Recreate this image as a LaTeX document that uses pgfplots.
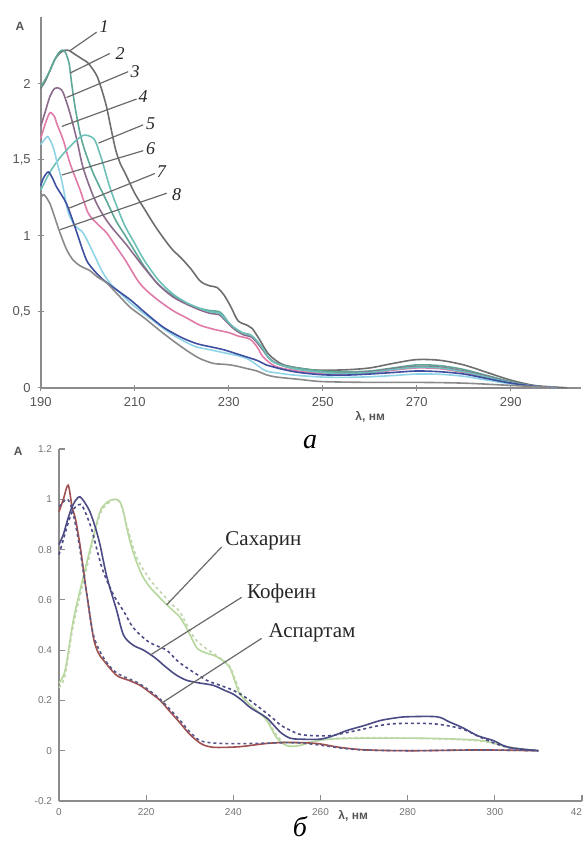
\documentclass[border=0pt]{standalone}
\usepackage{fontspec}
\setmainfont{Liberation Serif}
\setsansfont{Liberation Sans}
\usepackage{pgfplots}
\pgfplotsset{compat=1.18}
\definecolor{axgray}{HTML}{8C8C8C}
\definecolor{tickgray}{HTML}{555555}
\definecolor{leadgray}{HTML}{6A6A6A}
\definecolor{cA}{HTML}{6E6E6E}
\definecolor{cB}{HTML}{5EA898}
\definecolor{cC}{HTML}{8C6A8C}
\definecolor{cD}{HTML}{E07AA8}
\definecolor{cE}{HTML}{6CC0B8}
\definecolor{cF}{HTML}{8FD3E6}
\definecolor{cG}{HTML}{3F4FA0}
\definecolor{cH}{HTML}{8A8A8A}
\definecolor{asp}{HTML}{A0504F}
\definecolor{aspd}{HTML}{5A5A8A}
\definecolor{kof}{HTML}{4B4B85}
\definecolor{sac}{HTML}{B5D89C}
\definecolor{sacd}{HTML}{C2D4AC}
\begin{document}
\begin{tikzpicture}
\useasboundingbox (0,0) rectangle (292.5pt,420.5pt);
% ---------------- panel a ----------------
\begin{axis}[
  at={(20.35pt,226.65pt)}, anchor=south west,
  scale only axis, width=270.25pt, height=185.35pt,
  xmin=190, xmax=305, ymin=0, ymax=2.44, enlargelimits=false,
  axis lines=left, axis line style={-, draw=axgray, line width=0.9pt},
  clip=false,
  xtick={190,210,230,250,270,290}, xticklabels={190,210,230,250,270,290},
  ytick={0,0.5,1,1.5,2}, yticklabels={0,{0,5},1,{1,5},2},
  tick align=center, major tick length=3pt,
  tick style={draw=axgray, line width=0.6pt},
  /pgf/number format/assume math mode=true,
  tick label style={font=\sffamily\fontsize{6.5}{7}\selectfont, text=tickgray},
  every axis plot/.append style={line width=0.8pt, no markers, smooth, tension=0.5},
]
\addplot[cA] coordinates {(190,1.97)(191,2.02)(192,2.09)(193,2.16)(194,2.2)(195,2.22)(196,2.22)(197,2.2)(198,2.18)(199,2.16)(200,2.14)(201,2.1)(202,2.05)(203,1.96)(204,1.85)(205,1.7)(206,1.56)(207,1.47)(208,1.41)(210,1.28)(212,1.18)(214,1.08)(216,0.99)(218,0.91)(220,0.85)(222,0.78)(224,0.7)(226,0.67)(227.5,0.66)(229,0.61)(230.5,0.53)(232,0.44)(234,0.41)(235,0.39)(236.5,0.32)(238.5,0.22)(241,0.16)(243,0.14)(247,0.12)(250,0.115)(255,0.118)(260,0.13)(265,0.16)(270,0.185)(275,0.18)(280,0.15)(285,0.10)(290,0.05)(295,0.015)(300,0.003)(302,0)};
\addplot[cB] coordinates {(190,1.98)(191,2.03)(192,2.09)(193,2.16)(194,2.21)(195,2.22)(196,2.14)(196.6,2.0)(197.3,1.85)(198.4,1.67)(199.4,1.56)(201.2,1.41)(204,1.23)(206,1.1)(208,1.0)(210,0.9)(212,0.8)(214.7,0.69)(217,0.63)(220,0.57)(223,0.53)(225.5,0.51)(228,0.5)(229,0.47)(230.5,0.41)(233,0.36)(234.5,0.35)(236,0.3)(238.8,0.19)(241,0.15)(244.5,0.13)(250,0.11)(255,0.105)(260,0.11)(265,0.13)(270,0.15)(275,0.145)(280,0.12)(285,0.08)(290,0.04)(295,0.01)(300,0)};
\addplot[cC] coordinates {(190,1.72)(191,1.82)(192,1.92)(193,1.97)(194,1.97)(194.8,1.94)(196.2,1.81)(197.7,1.63)(199,1.45)(201.2,1.26)(203,1.15)(205,1.06)(208,0.95)(210,0.87)(212,0.79)(215,0.68)(218,0.6)(221,0.55)(224,0.51)(226,0.49)(228,0.48)(229,0.45)(231,0.39)(233,0.35)(235,0.33)(237,0.26)(239,0.18)(242,0.14)(245,0.12)(250,0.10)(255,0.098)(260,0.105)(265,0.125)(270,0.14)(275,0.135)(280,0.11)(285,0.075)(290,0.035)(295,0.01)(300,0)};
\addplot[cD] coordinates {(190,1.64)(191,1.74)(192,1.81)(193,1.78)(193.4,1.74)(194.8,1.63)(196.2,1.48)(198.4,1.30)(200.1,1.15)(202,1.08)(204,1.02)(206,0.93)(208,0.84)(211,0.69)(214,0.6)(218,0.51)(221,0.46)(224,0.41)(227.4,0.38)(229,0.37)(230.3,0.36)(232,0.34)(234.5,0.32)(236,0.27)(237.4,0.2)(240,0.14)(244.5,0.11)(250,0.09)(255,0.088)(260,0.095)(265,0.115)(270,0.13)(275,0.125)(280,0.10)(285,0.065)(290,0.03)(295,0.008)(300,0)};
\addplot[cE] coordinates {(190,1.3)(192,1.42)(194,1.51)(196,1.58)(198,1.64)(199,1.66)(200,1.66)(201.5,1.63)(203,1.5)(204.7,1.32)(206.5,1.17)(208,1.06)(210,0.95)(212,0.84)(215,0.71)(218,0.62)(221,0.56)(224,0.52)(226,0.5)(228,0.49)(229,0.46)(231,0.40)(233,0.36)(235,0.34)(237,0.27)(239,0.18)(242,0.14)(245,0.12)(250,0.10)(255,0.095)(260,0.1)(265,0.12)(270,0.135)(275,0.13)(280,0.105)(285,0.07)(290,0.033)(295,0.01)(300,0)};
\addplot[cF] coordinates {(190,1.6)(191,1.64)(191.6,1.65)(192.7,1.58)(193.5,1.48)(194.5,1.36)(195.9,1.15)(197.5,1.06)(199,1.02)(201,0.9)(203,0.77)(204.7,0.69)(207,0.62)(209,0.56)(211,0.51)(214,0.44)(217,0.37)(220.3,0.31)(223,0.27)(226,0.25)(229,0.23)(232,0.21)(234,0.19)(236,0.15)(238,0.11)(242,0.09)(245,0.08)(250,0.07)(255,0.068)(260,0.072)(265,0.08)(270,0.09)(275,0.088)(280,0.075)(285,0.05)(290,0.025)(295,0.008)(300,0)};
\addplot[cG] coordinates {(190,1.33)(190.6,1.38)(191.6,1.42)(192.5,1.38)(193.4,1.32)(195.5,1.21)(197.7,1.02)(199,0.9)(200.1,0.82)(202.6,0.73)(205,0.67)(209,0.58)(212,0.50)(216,0.40)(220,0.33)(223.2,0.29)(226,0.27)(228.9,0.25)(232,0.22)(236,0.18)(238,0.15)(241.6,0.12)(245,0.1)(250,0.085)(255,0.083)(260,0.09)(265,0.10)(270,0.11)(275,0.105)(280,0.09)(285,0.06)(290,0.03)(295,0.01)(300,0)};
\addplot[cH] coordinates {(190,1.25)(190.5,1.27)(191,1.26)(192,1.21)(193,1.12)(194.1,1.02)(195.5,0.91)(196.9,0.84)(198.5,0.8)(200.5,0.77)(202,0.73)(204,0.69)(206.5,0.61)(209,0.53)(212,0.46)(216,0.36)(219,0.29)(221.8,0.23)(224,0.19)(226.7,0.16)(228.5,0.155)(230.3,0.15)(232,0.14)(234,0.125)(236,0.11)(238,0.085)(240.2,0.07)(245,0.055)(250,0.04)(260,0.035)(270,0.035)(280,0.03)(290,0.015)(300,0)};
% leaders and labels
\begin{scope}[leadgray, line width=0.6pt]
\draw (axis cs:196.3,2.22) -- (axis cs:201.9,2.34);
\draw (axis cs:196.2,2.07) -- (axis cs:204.7,2.20);
\draw (axis cs:195.5,1.91) -- (axis cs:208.6,2.08);
\draw (axis cs:194.5,1.72) -- (axis cs:210.4,1.90);
\draw (axis cs:202.3,1.61) -- (axis cs:211.8,1.73);
\draw (axis cs:194.5,1.40) -- (axis cs:211.8,1.56);
\draw (axis cs:195.9,1.18) -- (axis cs:214.3,1.41);
\draw (axis cs:194.1,1.04) -- (axis cs:216.8,1.28);
\end{scope}
\begin{scope}[every node/.style={font=\itshape\fontsize{9}{10}\selectfont, text=black!85, inner sep=0pt}]
\node at (axis cs:203.5,2.375) {1};
\node at (axis cs:206.9,2.20) {2};
\node at (axis cs:210.1,2.08) {3};
\node at (axis cs:211.8,1.915) {4};
\node at (axis cs:213.4,1.735) {5};
\node at (axis cs:213.4,1.575) {6};
\node at (axis cs:215.7,1.42) {7};
\node at (axis cs:218.9,1.268) {8};
\end{scope}
\node[font=\sffamily\bfseries\fontsize{6}{7}\selectfont, text=tickgray] at (axis cs:185.6,2.38) {A};
\node[font=\sffamily\bfseries\fontsize{6}{7}\selectfont, text=tickgray] at (axis cs:260.1,-0.19) {λ, нм};
\node[font=\itshape\fontsize{14}{16}\selectfont] at (axis cs:247.3,-0.36) {а};
\end{axis}
% ---------------- panel b ----------------
\begin{axis}[
  at={(29.5pt,20pt)}, anchor=south west,
  scale only axis, width=261.5pt, height=176pt,
  xmin=200, xmax=320, ymin=-0.2, ymax=1.2, enlargelimits=false,
  axis lines=left, axis line style={-, draw=axgray, line width=0.9pt},
  clip=false,
  xtick={200,220,240,260,280,300,320}, xticklabels={0,220,240,260,280,300,{\makebox[0pt][r]{42}}},
  ytick={-0.2,0,0.2,0.4,0.6,0.8,1,1.2}, yticklabels={-0.2,0,0.2,0.4,0.6,0.8,1,1.2},
  tick align=inside, major tick length=3pt,
  tick style={draw=axgray, line width=0.6pt},
  /pgf/number format/assume math mode=true,
  tick label style={font=\sffamily\fontsize{5}{6}\selectfont, text=black!55},
  every axis plot/.append style={line width=0.8pt, no markers, smooth, tension=0.5},
]
\addplot[sac] coordinates {(200,0.27)(201.4,0.32)(203.3,0.52)(205,0.65)(206.4,0.75)(208,0.86)(209.4,0.95)(210.5,0.98)(211.7,0.995)(213,1.0)(214,0.99)(214.8,0.95)(215.5,0.89)(216.5,0.82)(217.8,0.75)(219.3,0.69)(220.9,0.65)(222.5,0.62)(223.9,0.595)(226,0.56)(227.8,0.53)(229.5,0.48)(231.6,0.41)(233.5,0.39)(235.4,0.38)(237.5,0.36)(239.2,0.33)(240.5,0.27)(241.5,0.225)(244,0.18)(246,0.15)(247.7,0.12)(250,0.05)(252.3,0.02)(255,0.02)(258,0.035)(262,0.046)(270,0.05)(280,0.05)(288,0.048)(297,0.04)(303,0.015)(308,0.003)(310,0)};
\addplot[sacd, dash pattern=on 1.5pt off 1.5pt] coordinates {(200,0.25)(201.4,0.3)(203.3,0.5)(206.4,0.73)(209.4,0.94)(211.7,0.99)(213,1.0)(214.2,0.98)(215.5,0.9)(217.8,0.77)(220.9,0.68)(223.9,0.62)(226,0.58)(227.8,0.55)(231,0.45)(233.5,0.41)(236,0.38)(239,0.34)(240.5,0.28)(242,0.22)(244.5,0.17)(247.7,0.125)(250,0.06)(252.3,0.03)(258,0.035)(262,0.048)(270,0.052)(280,0.05)(290,0.045)(297,0.038)(303,0.015)(310,0)};
\addplot[asp] coordinates {(200,0.95)(201,1.0)(202.1,1.056)(203,0.97)(203.8,0.92)(204.8,0.82)(205.6,0.72)(206.4,0.62)(207.9,0.45)(209,0.39)(210.2,0.36)(213.2,0.30)(216,0.28)(218.6,0.26)(221,0.23)(223.2,0.20)(225.5,0.155)(227.8,0.11)(230,0.065)(232.4,0.03)(234,0.018)(236.2,0.013)(241.5,0.016)(247.7,0.029)(252,0.033)(256,0.032)(259.9,0.027)(264.5,0.013)(270.6,0.003)(281.3,0)(296.6,0.003)(310,0)};
\addplot[aspd, dash pattern=on 1.5pt off 1.5pt] coordinates {(200,0.97)(201,0.99)(202,1.0)(203,0.96)(204,0.88)(204.8,0.8)(206.4,0.62)(207.9,0.46)(210.2,0.37)(213.2,0.31)(218.6,0.265)(223.2,0.205)(227.8,0.12)(230,0.075)(232.4,0.04)(236,0.03)(241.5,0.028)(247.7,0.03)(252,0.032)(256,0.03)(260,0.022)(265,0.01)(270,0.003)(280,0)(296,0.003)(310,0)};
\addplot[kof] coordinates {(200,0.82)(201,0.86)(202,0.92)(203,0.97)(204,1.0)(204.8,1.01)(205.8,0.99)(207.1,0.95)(208.3,0.89)(209.4,0.82)(211,0.69)(213.2,0.56)(214.8,0.46)(217,0.42)(219.4,0.40)(222,0.37)(224.7,0.33)(227,0.30)(229.3,0.28)(232,0.27)(235.4,0.26)(238,0.24)(240,0.225)(242,0.2)(244,0.17)(247.7,0.13)(250.7,0.075)(253,0.05)(255.3,0.046)(259.9,0.046)(263,0.06)(266,0.08)(270,0.1)(273.7,0.12)(277,0.13)(279.8,0.135)(286.7,0.135)(289.5,0.115)(292.8,0.09)(296,0.06)(299.7,0.04)(302,0.02)(304.3,0.01)(310,0)};
\addplot[kof, dash pattern=on 1.5pt off 1.5pt] coordinates {(200,0.78)(201,0.84)(202,0.9)(203,0.95)(203.8,0.97)(205,0.98)(206,0.95)(207.5,0.88)(209,0.78)(210.2,0.71)(212.5,0.62)(215,0.55)(217,0.49)(220,0.44)(222,0.42)(224.7,0.40)(227,0.36)(229.3,0.33)(233.9,0.28)(237,0.26)(240,0.24)(243,0.21)(246.1,0.17)(249,0.13)(251,0.1)(253.8,0.075)(255.3,0.065)(258,0.06)(262.2,0.06)(266,0.072)(269.8,0.086)(273.5,0.1)(277.5,0.108)(285,0.108)(289,0.1)(292.8,0.085)(296.5,0.055)(300.4,0.027)(304,0.01)(310,0)};
\begin{scope}[leadgray, line width=0.6pt]
\draw (axis cs:237.3,0.81) -- (axis cs:224.7,0.58);
\draw (axis cs:241.9,0.61) -- (axis cs:220.9,0.38);
\draw (axis cs:246.5,0.447) -- (axis cs:223.6,0.19);
\end{scope}
\begin{scope}[every node/.style={font=\fontsize{10.5}{12}\selectfont, text=black!85, anchor=west, inner sep=0pt}]
\node at (axis cs:238.1,0.833) {Сахарин};
\node at (axis cs:243.1,0.627) {Кофеин};
\node at (axis cs:248.0,0.468) {Аспартам};
\end{scope}
\node[font=\sffamily\bfseries\fontsize{6}{7}\selectfont, text=tickgray] at (axis cs:190.66,1.19) {A};
\node[font=\sffamily\bfseries\fontsize{6}{7}\selectfont, text=tickgray] at (axis cs:267.5,-0.258) {λ, нм};
\node[font=\itshape\fontsize{14}{16}\selectfont] at (axis cs:255.3,-0.30) {б};
\end{axis}
\end{tikzpicture}
\end{document}
